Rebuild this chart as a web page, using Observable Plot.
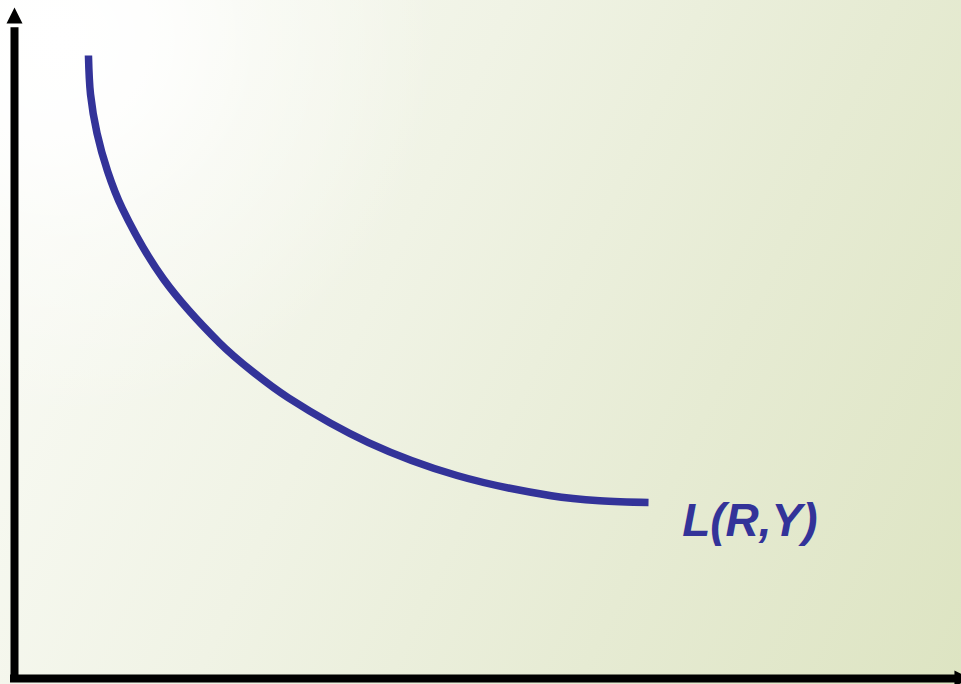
<!DOCTYPE html>
<html>
<head>
<meta charset="utf-8">
<script src="https://cdn.jsdelivr.net/npm/d3@7"></script>
<script src="https://cdn.jsdelivr.net/npm/@observablehq/plot@0.6"></script>
<style>
  html, body { margin: 0; padding: 0; overflow: hidden; background: #fff; }
  #chart svg { display: block; }
</style>
</head>
<body>
<div id="chart"></div>
<script>
// Curve L(R,Y): abstract units (x: quantity 0-100, y: rate 0-100)
const curveX = [7.81, 8.03, 8.71, 9.83, 11.38, 15.73, 21.65, 25.13, 28.93, 37.38, 46.73, 56.68, 61.80, 66.95];
const curveY = [92.85, 87.03, 81.28, 75.60, 70.06, 59.54, 50.03, 45.75, 41.82, 35.16, 30.25, 27.24, 26.48, 26.23];
const labelText = ["L(R,Y)"];
const labelX = [70.5];
const labelY = [23.5];

const curve = curveX.map((x, i) => ({x, y: curveY[i]}));
const labels = labelText.map((t, i) => ({t, x: labelX[i], y: labelY[i]}));

// filled arrowhead symbol, tip pointing up
const arrowHead = {
  draw(ctx, size) {
    const r = Math.sqrt(size / Math.PI);
    ctx.moveTo(0, -r);
    ctx.lineTo(r, r);
    ctx.lineTo(-r, r);
    ctx.closePath();
  }
};

const plot = Plot.plot({
  width: 961,
  height: 684,
  margin: 0,
  x: {domain: [0, 100], range: [14, 961], axis: null},
  y: {domain: [0, 100], range: [678, 7], axis: null},
  style: {
    background: "radial-gradient(circle at 60px 40px, rgba(255,255,255,1) 0px, rgba(255,255,255,0.85) 90px, rgba(255,255,255,0.4) 200px, rgba(255,255,255,0) 380px), linear-gradient(115deg, #fbfcf8 0%, #f0f3e5 40%, #e6ebd3 70%, #dde4c2 100%)",
    overflow: "hidden"
  },
  marks: [
    // y axis line
    Plot.ruleX([0], {y1: -0.6, y2: 97, stroke: "black", strokeWidth: 8}),
    // x axis line
    Plot.ruleY([0], {x1: -0.42, x2: 99.5, stroke: "black", strokeWidth: 8}),
    // arrowheads
    Plot.dot([{x: 0, y: 98.8}], {x: "x", y: "y", symbol: arrowHead, r: 8, fill: "black", stroke: null}),
    Plot.dot([{x: 100.1, y: 0}], {x: "x", y: "y", symbol: arrowHead, r: 8, fill: "black", stroke: null, rotate: 90}),
    // curve
    Plot.line(curve, {x: "x", y: "y", stroke: "#333399", strokeWidth: 7.5, curve: "catmull-rom", strokeLinecap: "butt"}),
    // label
    Plot.text(labels, {x: "x", y: "y", text: "t", textAnchor: "start", fill: "#333399",
      fontSize: 46, fontWeight: "bold", fontStyle: "italic", fontFamily: "Liberation Sans, Arial, sans-serif"})
  ]
});
document.getElementById("chart").appendChild(plot);
</script>
</body>
</html>
